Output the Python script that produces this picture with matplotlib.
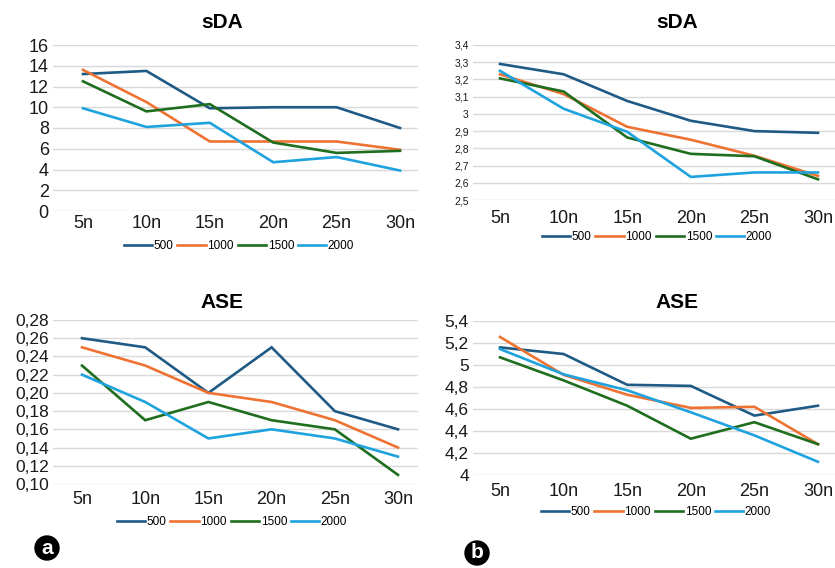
import matplotlib
matplotlib.use('Agg')
import matplotlib.pyplot as plt
from matplotlib.ticker import FuncFormatter

plt.rcParams['font.family'] = ['Liberation Sans', 'DejaVu Sans']

W, H = 835, 568

categories = ['5n', '10n', '15n', '20n', '25n', '30n']
series_names = ['500', '1000', '1500', '2000']
colors = ['#1f5a85', '#ee7333', '#1f6e1f', '#1fa3de']

# panel a, sDA
sda_a_500 = [13.2, 13.5, 9.9, 10.0, 10.0, 8.0]
sda_a_1000 = [13.6, 10.5, 6.7, 6.7, 6.7, 5.9]
sda_a_1500 = [12.5, 9.6, 10.3, 6.6, 5.6, 5.8]
sda_a_2000 = [9.9, 8.1, 8.5, 4.7, 5.2, 3.9]

# panel b, sDA
sda_b_500 = [3.29, 3.23, 3.075, 2.96, 2.90, 2.89]
sda_b_1000 = [3.23, 3.115, 2.925, 2.85, 2.757, 2.64]
sda_b_1500 = [3.206, 3.13, 2.863, 2.768, 2.754, 2.62]
sda_b_2000 = [3.25, 3.03, 2.896, 2.634, 2.66, 2.66]

# panel a, ASE
ase_a_500 = [0.26, 0.25, 0.20, 0.25, 0.18, 0.16]
ase_a_1000 = [0.25, 0.23, 0.20, 0.19, 0.17, 0.14]
ase_a_1500 = [0.23, 0.17, 0.19, 0.17, 0.16, 0.11]
ase_a_2000 = [0.22, 0.19, 0.15, 0.16, 0.15, 0.13]

# panel b, ASE
ase_b_500 = [5.16, 5.10, 4.82, 4.81, 4.54, 4.63]
ase_b_1000 = [5.255, 4.91, 4.73, 4.61, 4.62, 4.28]
ase_b_1500 = [5.07, 4.86, 4.63, 4.33, 4.48, 4.28]
ase_b_2000 = [5.145, 4.915, 4.77, 4.57, 4.36, 4.12]


def comma_general(v, pos):
    s = ('%.2f' % v).rstrip('0').rstrip('.')
    return s.replace('.', ',')


def comma_2dec(v, pos):
    return ('%.2f' % v).replace('.', ',')


def add_panel(box, series, ylim, ystep, fmt, ytick_size, xtick_size, xpad,
              x0px, x5px, title, title_xy, legend_xy):
    # box in pixel coords: left, top, right, bottom
    l, t, r, b = box
    ax = fig.add_axes([l / W, (H - b) / H, (r - l) / W, (b - t) / H])
    step = (x5px - x0px) / 5.0
    ax.set_xlim(-(x0px - l) / step, 5 + (r - x5px) / step)
    ax.set_ylim(*ylim)
    lines = []
    for vals, name, c in zip(series, series_names, colors):
        ln, = ax.plot(range(len(categories)), vals, color=c, lw=1.9, label=name,
                      solid_joinstyle='miter')
        lines.append(ln)
    n = int(round((ylim[1] - ylim[0]) / ystep))
    ax.set_yticks([ylim[0] + i * ystep for i in range(n + 1)])
    ax.yaxis.set_major_formatter(FuncFormatter(fmt))
    ax.set_xticks(range(len(categories)))
    ax.set_xticklabels(categories)
    ax.grid(axis='y', color='#d9d9d9', lw=1)
    ax.set_axisbelow(True)
    for s in ax.spines.values():
        s.set_visible(False)
    ax.tick_params(axis='both', length=0, colors='#1a1a1a')
    ax.tick_params(axis='y', labelsize=ytick_size, pad=3)
    ax.tick_params(axis='x', labelsize=xtick_size, pad=xpad)
    fig.text(title_xy[0] / W, 1 - title_xy[1] / H, title, fontsize=15,
             fontweight='bold', ha='center', va='center')
    fig.legend(lines, series_names, loc='center',
               bbox_to_anchor=(legend_xy[0] / W, 1 - legend_xy[1] / H),
               ncol=4, frameon=False, fontsize=8.5, handlelength=2.4,
               handletextpad=0.15, columnspacing=0.3, borderpad=0)
    return ax


fig = plt.figure(figsize=(W / 100, H / 100), dpi=100)

add_panel((53, 45, 418, 211),
          [sda_a_500, sda_a_1000, sda_a_1500, sda_a_2000],
          (0, 16), 2, comma_general, 13, 13, 3,
          83, 400, 'sDA', (222, 22), (239, 246))

add_panel((473, 45, 835, 200),
          [sda_b_500, sda_b_1000, sda_b_1500, sda_b_2000],
          (2.5, 3.4), 0.1, comma_general, 7.5, 13, 7,
          500, 818, 'sDA', (677, 22), (657, 237))

add_panel((53, 320, 418, 484),
          [ase_a_500, ase_a_1000, ase_a_1500, ase_a_2000],
          (0.10, 0.28), 0.02, comma_2dec, 12.5, 13, 5,
          82, 398, 'ASE', (222, 302), (232, 522))

add_panel((473, 321, 835, 475),
          [ase_b_500, ase_b_1000, ase_b_1500, ase_b_2000],
          (4.0, 5.4), 0.2, comma_general, 12.5, 13, 6,
          500, 818, 'ASE', (677, 302), (656, 512))

for lab, (px, py) in [('a', (47, 548)), ('b', (477, 553))]:
    fig.text(px / W, 1 - py / H, lab, color='white', fontsize=15,
             fontweight='bold', ha='center', va='center',
             bbox=dict(boxstyle='circle,pad=0.12', fc='black', ec='black'))

fig.savefig('out.png', dpi=100)
